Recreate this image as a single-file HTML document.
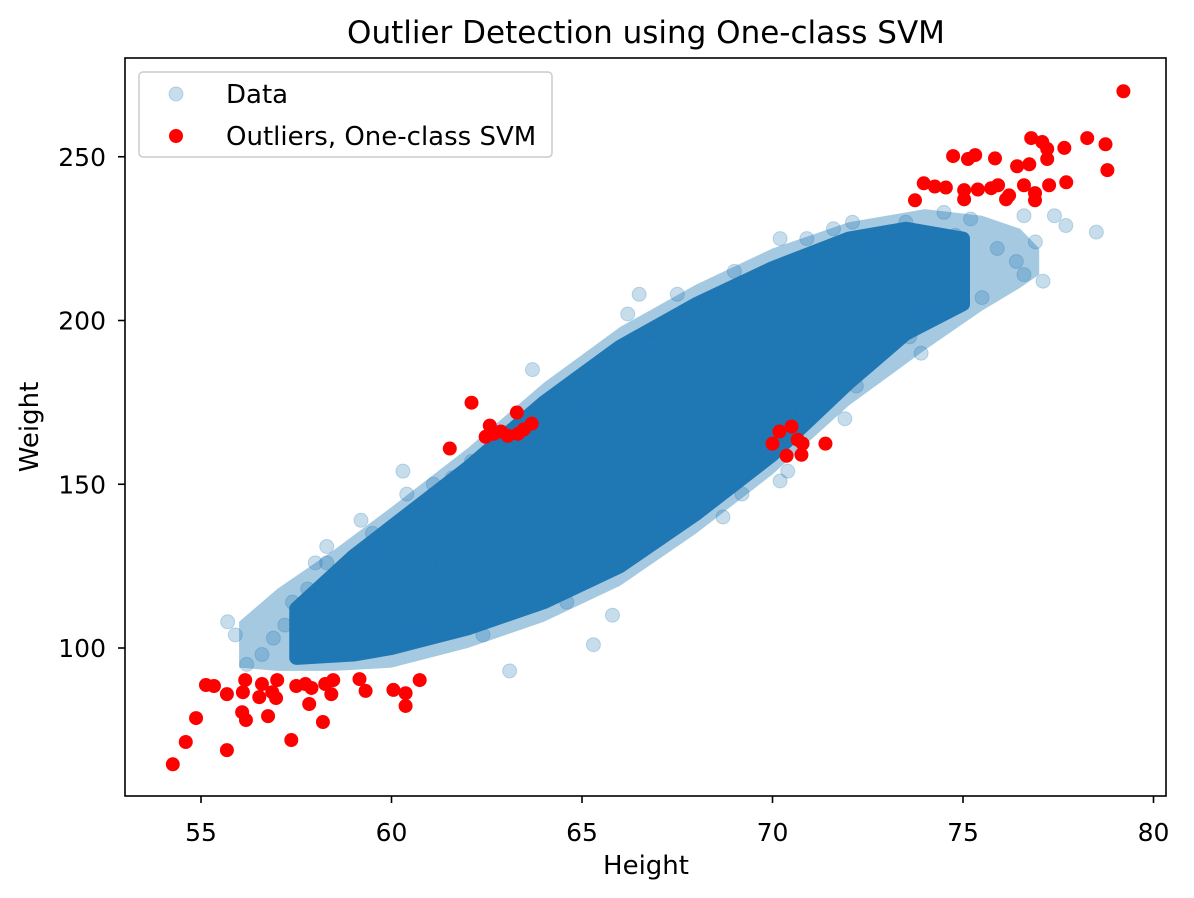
<!DOCTYPE html>
<html><head><meta charset="utf-8"><style>
body{margin:0;background:#fff;}
svg{display:block;font-family:"DejaVu Sans","Liberation Sans",sans-serif;}
</style></head><body>
<svg id="chart" width="1194" height="898" viewBox="0 0 1194 898">
<rect width="1194" height="898" fill="#fff"/>
<text x="646" y="43" font-size="31" text-anchor="middle">Outlier Detection using One-class SVM</text>
<g id="plot"></g>
<rect x="125" y="58" width="1041" height="738" fill="none" stroke="#000" stroke-width="1.6"/>
<g id="xt"></g>
<g id="yt"></g>
<text x="646" y="874" font-size="26" text-anchor="middle">Height</text>
<text x="0" y="0" font-size="26" text-anchor="middle" transform="translate(38,427) rotate(-90)">Weight</text>
<g>
<rect x="139" y="72" width="413" height="85" rx="4" fill="#fff" fill-opacity="0.8" stroke="#ccc" stroke-width="1.5"/>
<circle cx="176" cy="94" r="7" fill="#1f77b4" fill-opacity="0.25" stroke="#1f77b4" stroke-opacity="0.25"/>
<text x="226" y="103" font-size="26">Data</text>
<circle cx="176" cy="136" r="7" fill="#f00"/>
<text x="226" y="145" font-size="26">Outliers, One-class SVM</text>
</g>
</svg>
<script>
const xTicks=[55,60,65,70,75,80];
const yTicks=[100,150,200,250];
// dense core band of data
const bandX=[57.5,59,60,62,64,66,68,70,72,73.5,75];
const bandLow=[97,98,100,106,114,125,141,159,181,196,205];
const bandHigh=[112,128,137,155,175,192,205,216,225,228,225];
// fuzzier outer band
const fuzzX=[56,57,58.5,60,62,64,66,68,70,72,74,75.5,76.5,77];
const fuzzLow=[94,93,93,94,100,108,119,135,153,174,191,203,210,214];
const fuzzHigh=[108,118,130,143,161,181,198,211,222,230,234,232,228,222];
// sparse data points
const dataX=[55.7,55.9,56.2,57.4,58,58.3,58.3,59.2,60.3,60.4,61.6,63.1,63.7,65.8,65.3,64.6,62.4,66.5,66.2,67.5,69,70.2,70.9,71.6,72.1,73.5,74.5,75.2,76.6,77.4,78.5,76.4,76.6,77.1,75.5,74.1,73.6,72.2,71.5,70.8,70.2,69.2,68.7,67.3,62.1,61.1,59.5,57.2,56.6,61,64,56.9,57.8,58.9,59.6,60.8,62.8,63.9,65.2,66.8,67.8,69.6,71.2,72.8,73.2,74.8,75.9,76.9,77.7,70.4,71.9,73.9];
const dataY=[108,104,95,114,126,126,131,139,154,147,152,93,185,110,101,114,104,208,202,208,215,225,225,228,230,230,233,231,232,232,227,218,214,212,207,202,195,180,181,172,151,147,140,138,157,150,135,107,98,126,166,103,118,122,129,138,146,160,175,193,201,208,219,220,226,226,222,224,229,154,170,190];
// outliers
const outX=[54.26,54.6,54.87,55.13,55.34,55.68,55.68,56.08,56.16,56.1,56.18,56.53,56.6,56.76,56.87,57.0,56.97,57.37,57.5,57.74,57.84,57.9,58.2,58.26,58.42,58.47,59.16,59.32,60.05,60.37,60.37,60.74,
61.53,62.1,62.47,62.58,62.68,62.87,63.05,63.29,63.32,63.47,63.68,
70.0,70.18,70.37,70.5,70.66,70.79,70.76,71.39,
73.74,73.97,74.26,74.55,74.74,75.03,75.13,75.03,75.32,75.39,75.84,75.74,75.92,76.21,76.13,76.42,76.6,76.74,76.89,76.89,76.79,77.08,77.21,77.21,77.26,77.66,77.71,78.26,78.74,78.79,79.21];
const outY=[64.5,71.3,78.6,88.7,88.4,68.8,85.9,80.4,90.2,86.5,78.0,85.0,89.0,79.2,86.5,90.2,84.7,71.9,88.4,89.0,82.9,87.8,77.4,89.0,85.9,90.2,90.5,86.9,87.2,82.3,86.2,90.2,
160.9,174.9,164.5,167.9,165.4,166.1,164.8,171.9,165.4,166.7,168.5,
162.4,166.1,158.7,167.6,163.6,162.4,159,162.4,
236.7,241.9,240.9,240.6,250.2,239.8,249.3,237,250.5,240,249.5,240.4,241.3,238.2,237,247.1,241.3,247.7,238.9,236.7,255.7,254.5,252.4,249.3,241.3,252.7,242.2,255.7,253.8,245.9,270];

const NS='http://www.w3.org/2000/svg';
const X=v=>201+(v-55)*38.1;
const Y=v=>648-(v-100)*3.275;
const plot=document.getElementById('plot');
function mk(t,a,p){const e=document.createElementNS(NS,t);for(const k in a)e.setAttribute(k,a[k]);(p||plot).appendChild(e);return e;}
function band(xs,lo,hi,op,sw,name){
  let pts=xs.map((x,i)=>X(x)+','+Y(hi[i]));
  for(let i=xs.length-1;i>=0;i--)pts.push(X(xs[i])+','+Y(lo[i]));
  const e=mk('polygon',{points:pts.join(' '),fill:'#1f77b4','fill-opacity':op,stroke:sw?'#1f77b4':'none','stroke-width':sw,'stroke-linejoin':'round'});
  
  
}
band(fuzzX,fuzzLow,fuzzHigh,0.4,0,'data-outer-band');
band(bandX,bandLow,bandHigh,1,14,'data-core-band');
dataX.forEach((x,i)=>{
  const c=mk('circle',{cx:X(x),cy:Y(dataY[i]),r:7,fill:'#1f77b4','fill-opacity':0.25,stroke:'#1f77b4','stroke-opacity':0.25});
  
  
});
outX.forEach((x,i)=>{
  const c=mk('circle',{cx:X(x),cy:Y(outY[i]),r:7,fill:'#f00'});
  
  
});
const xt=document.getElementById('xt'),yt=document.getElementById('yt');
xTicks.forEach(v=>{
  const l=mk('line',{x1:X(v),x2:X(v),y1:796,y2:803,stroke:'#000','stroke-width':1.6},xt);
  
  
  const t=mk('text',{x:X(v),y:841,'font-size':25,'text-anchor':'middle'},xt);t.textContent=v;
  
  
});
yTicks.forEach(v=>{
  const l=mk('line',{x1:118,x2:125,y1:Y(v),y2:Y(v),stroke:'#000','stroke-width':1.6},yt);
  
  
  const t=mk('text',{x:106,y:Y(v)+9,'font-size':25,'text-anchor':'end'},yt);t.textContent=v;
  
  
});
</script>
</body></html>
